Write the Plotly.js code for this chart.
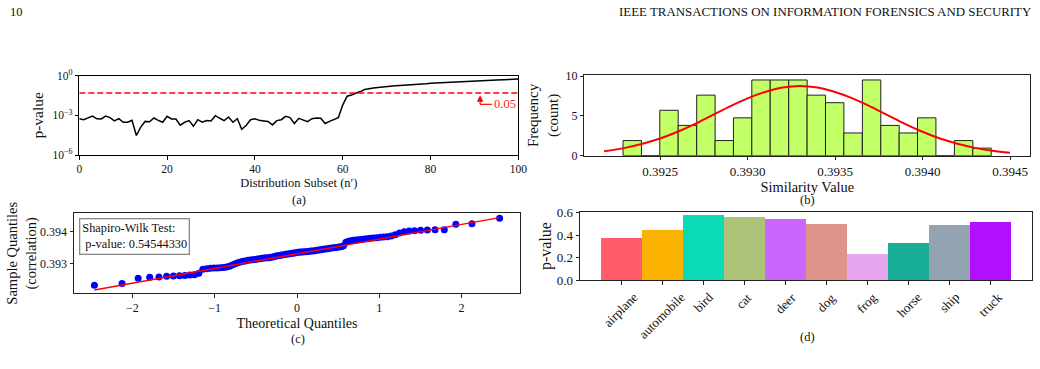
<!DOCTYPE html>
<html>
<head>
<meta charset="utf-8">
<script src="https://cdn.plot.ly/plotly-3.0.1.min.js"></script>
<style>
  html, body { margin: 0; padding: 0; background: #fff; }
  #chart { width: 1040px; height: 369px; }
</style>
</head>
<body>
<div id="chart"></div>
<script>
// ---- (a) p-value over distribution subsets ----
const subsetN = [0,1,2,3,4,5,6,7,8,9,10,11,12,13,14,15,16,17,18,19,20,21,22,23,24,25,26,27,28,29,30,
  31,32,33,34,35,36,37,38,39,40,41,42,43,44,45,46,47,48,49,50,51,52,53,54,55,56,57,58,59,60,
  61,62,63,64,65,66,67,68,69,70,71,72,73,74,75,76,77,78,79,80,81,82,83,84,85,86,87,88,89,90,
  91,92,93,94,95,96,97,98,99,100];
const subsetP = [
  5.6e-4, 4.7e-4, 6.5e-4, 8.9e-4, 5.5e-4, 5.3e-4, 8.9e-4, 6.7e-4, 3.8e-4, 5.6e-4,
  3.0e-4, 3.0e-4, 4.2e-4, 3.0e-5, 1.3e-4, 3.5e-4, 3.3e-4, 6.3e-4, 4.2e-4, 3.0e-4,
  8.4e-4, 5.3e-4, 5.3e-4, 1.8e-4, 3.0e-4, 4.0e-4, 1.5e-4, 4.7e-4, 3.0e-4, 4.0e-4,
  3.8e-4, 9.4e-4, 6.0e-4, 4.0e-4, 7.5e-4, 3.0e-4, 5.6e-4, 8.9e-5, 1.7e-4, 4.7e-4,
  5.6e-4, 4.2e-4, 3.8e-4, 3.5e-4, 1.9e-4, 4.0e-4, 4.7e-4, 8.4e-4, 6.7e-4, 2.4e-4,
  6.0e-4, 4.2e-4, 3.3e-4, 5.6e-4, 6.3e-4, 6.0e-4, 2.4e-4, 3.5e-4, 5.0e-4, 6.7e-4,
  0.006, 0.028, 0.035, 0.045, 0.063, 0.089, 0.107, 0.117, 0.126, 0.132,
  0.141, 0.158, 0.170, 0.182, 0.190, 0.182, 0.209, 0.219, 0.229, 0.245,
  0.263, 0.275, 0.295, 0.316, 0.331, 0.347, 0.355, 0.363, 0.380, 0.398,
  0.407, 0.417, 0.427, 0.437, 0.457, 0.468, 0.490, 0.500, 0.525, 0.537,
  0.562];
const threshold = 0.05;
const pTickVals = [1e-6, 1e-3, 1];
const pTickText = ['10<sup>\u22126</sup>', '10<sup>\u22123</sup>', '10<sup>0</sup>'];

// ---- (b) histogram of similarity values with fitted normal ----
const binCenters = [0.392341, 0.392446, 0.392551, 0.392656, 0.392762, 0.392867, 0.392972,
  0.393077, 0.393182, 0.393288, 0.393393, 0.393498, 0.393603, 0.393709, 0.393814, 0.393919,
  0.394024, 0.394129, 0.394235, 0.394340];
const binHeights = [1.9, 0, 5.7, 3.8, 7.6, 1.9, 4.75, 9.5, 9.5, 9.5, 7.6, 6.65, 2.85, 9.5,
  3.8, 2.85, 4.75, 0, 1.9, 0.95];
const binWidth = 0.0001053;
const normalX = [0.39218, 0.3923, 0.3924, 0.3925, 0.3926, 0.3927, 0.3928, 0.3929, 0.3930,
  0.3931, 0.3932, 0.3933, 0.3934, 0.3935, 0.3936, 0.3937, 0.3938, 0.3939, 0.3940, 0.3941,
  0.3942, 0.3943, 0.3944, 0.3945];
const normalY = [0.55, 0.98, 1.5, 2.15, 3.0, 4.0, 5.1, 6.2, 7.2, 8.0, 8.55, 8.75, 8.55, 8.0,
  7.2, 6.2, 5.1, 4.0, 3.0, 2.15, 1.5, 0.98, 0.62, 0.37];
const simTicks = [0.3925, 0.3930, 0.3935, 0.3940, 0.3945];

// ---- (c) normal Q-Q plot ----
const theoreticalQ = [
  -2.462, -2.126, -1.930, -1.790, -1.678, -1.584, -1.502, -1.428, -1.362, -1.302,
  -1.246, -1.193, -1.144, -1.097, -1.053, -1.010, -0.969, -0.930, -0.892, -0.856,
  -0.820, -0.786, -0.752, -0.719, -0.687, -0.656, -0.625, -0.595, -0.565, -0.536,
  -0.508, -0.479, -0.452, -0.424, -0.397, -0.370, -0.343, -0.317, -0.291, -0.265,
  -0.239, -0.214, -0.188, -0.163, -0.137, -0.112, -0.087, -0.062, -0.037, -0.012,
  0.012, 0.037, 0.062, 0.087, 0.112, 0.137, 0.163, 0.188, 0.214, 0.239,
  0.265, 0.291, 0.317, 0.343, 0.370, 0.397, 0.424, 0.452, 0.479, 0.508,
  0.536, 0.565, 0.595, 0.625, 0.656, 0.687, 0.719, 0.752, 0.786, 0.820,
  0.856, 0.892, 0.930, 0.969, 1.010, 1.053, 1.097, 1.144, 1.193, 1.246,
  1.302, 1.362, 1.428, 1.502, 1.584, 1.678, 1.790, 1.930, 2.126, 2.462];
const sampleQ = [
  0.392323, 0.392385, 0.392542, 0.392573, 0.392583, 0.392604, 0.392615, 0.392625, 0.392635, 0.392646,
  0.392656, 0.392698, 0.392823, 0.392844, 0.392854, 0.392865, 0.392865, 0.392875, 0.392885, 0.392896,
  0.392917, 0.392958, 0.393000, 0.393031, 0.393052, 0.393073, 0.393083, 0.393104, 0.393115, 0.393125,
  0.393135, 0.393146, 0.393156, 0.393167, 0.393177, 0.393188, 0.393188, 0.393198, 0.393208, 0.393229,
  0.393250, 0.393260, 0.393271, 0.393281, 0.393292, 0.393302, 0.393313, 0.393323, 0.393333, 0.393344,
  0.393354, 0.393365, 0.393365, 0.393375, 0.393375, 0.393385, 0.393396, 0.393396, 0.393406, 0.393417,
  0.393427, 0.393438, 0.393448, 0.393458, 0.393469, 0.393479, 0.393490, 0.393500, 0.393510, 0.393521,
  0.393531, 0.393563, 0.393667, 0.393698, 0.393719, 0.393729, 0.393740, 0.393750, 0.393760, 0.393771,
  0.393781, 0.393792, 0.393802, 0.393813, 0.393823, 0.393833, 0.393844, 0.393865, 0.393906, 0.393958,
  0.394000, 0.394021, 0.394031, 0.394042, 0.394052, 0.394063, 0.394063, 0.394229, 0.394250, 0.394417];
const fitLineX = [-2.462, 2.462];
const fitLineY = [0.39218, 0.39444];
const shapiroText = 'Shapiro-Wilk Test:<br>\u00a0p-value: 0.54544330';

// ---- (d) per-class p-values ----
const classes = ['airplane', 'automobile', 'bird', 'cat', 'deer', 'dog', 'frog', 'horse', 'ship', 'truck'];
const classP = [0.376, 0.448, 0.582, 0.558, 0.546, 0.501, 0.233, 0.331, 0.493, 0.519];
const classColors = ['#FF5B68', '#FCB200', '#0BDAB6', '#ADC177', '#C966FD', '#E0938A',
  '#E8A6F0', '#17AD97', '#93A3B2', '#B10FFE'];

// ---- layout helpers (pixel -> paper) ----
const W = 1040, H = 369;
const fx = px => px / W;
const fy = py => 1 - py / H;
const FONT = 'Liberation Serif, Times New Roman, serif';
const INK = '#111';

function axisBase(extra) {
  return Object.assign({
    showline: true, mirror: true, linewidth: 1, linecolor: '#222',
    ticks: 'outside', ticklen: 3.5, tickwidth: 1, tickcolor: '#222',
    showgrid: false, zeroline: false, automargin: false,
    tickfont: { family: FONT, size: 11.5, color: INK }
  }, extra);
}
const tf = size => ({ family: FONT, size: size, color: INK });

const traces = [
  { x: subsetN, y: subsetP, xaxis: 'x', yaxis: 'y', type: 'scatter', mode: 'lines',
    line: { color: '#000', width: 1.5 }, hoverinfo: 'skip' },
  { x: [subsetN[0], subsetN[subsetN.length - 1]], y: [threshold, threshold], xaxis: 'x', yaxis: 'y',
    type: 'scatter', mode: 'lines', line: { color: '#FF0000', width: 1.5, dash: '6px,3px' }, hoverinfo: 'skip' },

  { x: binCenters, y: binHeights, xaxis: 'x2', yaxis: 'y2', type: 'bar', width: binWidth,
    marker: { color: '#C3FF66', line: { color: '#222', width: 1 } }, hoverinfo: 'skip' },
  { x: normalX, y: normalY, xaxis: 'x2', yaxis: 'y2', type: 'scatter', mode: 'lines',
    line: { color: '#FF0000', width: 2, shape: 'spline', smoothing: 1 }, hoverinfo: 'skip' },

  { x: theoreticalQ, y: sampleQ, xaxis: 'x3', yaxis: 'y3', type: 'scatter', mode: 'markers',
    marker: { color: '#0000FF', size: 7 }, hoverinfo: 'skip' },
  { x: fitLineX, y: fitLineY, xaxis: 'x3', yaxis: 'y3', type: 'scatter', mode: 'lines',
    line: { color: '#FF0000', width: 1.5 }, hoverinfo: 'skip' },

  { x: classes, y: classP, xaxis: 'x4', yaxis: 'y4', type: 'bar', width: 1,
    marker: { color: classColors, line: { width: 0 } }, hoverinfo: 'skip' }
];

const annotations = [
  // running header
  { text: '10', xref: 'paper', yref: 'paper', x: fx(8), y: fy(12), xanchor: 'left', yanchor: 'middle',
    showarrow: false, font: tf(12.5) },
  { text: 'IEEE TRANSACTIONS ON INFORMATION FORENSICS AND SECURITY', xref: 'paper', yref: 'paper',
    x: fx(1033), y: fy(12), xanchor: 'right', yanchor: 'middle', showarrow: false, font: tf(12.9) },
  // sub-figure captions
  { text: '(a)', xref: 'paper', yref: 'paper', x: fx(299), y: fy(200), xanchor: 'center', yanchor: 'middle',
    showarrow: false, font: tf(12.5) },
  { text: '(b)', xref: 'paper', yref: 'paper', x: fx(807), y: fy(200), xanchor: 'center', yanchor: 'middle',
    showarrow: false, font: tf(12.5) },
  { text: '(c)', xref: 'paper', yref: 'paper', x: fx(298), y: fy(338.5), xanchor: 'center', yanchor: 'middle',
    showarrow: false, font: tf(12.5) },
  { text: '(d)', xref: 'paper', yref: 'paper', x: fx(807), y: fy(337), xanchor: 'center', yanchor: 'middle',
    showarrow: false, font: tf(12.5) },
  // arrowhead of the 0.05 marker in (a)
  { text: '', xref: 'x', yref: 'y domain', x: 91.3, y: 0.755, showarrow: true,
    ax: 0, ay: 7, arrowhead: 2, arrowsize: 1.1, arrowwidth: 1.2, arrowcolor: '#FF0000',
    standoff: 0, startstandoff: 0, borderpad: 0, font: { size: 1 } },
  { text: '0.05', xref: 'x', yref: 'y domain', x: 94.0, y: 0.639, xanchor: 'left', yanchor: 'middle',
    showarrow: false, font: { family: FONT, size: 12.5, color: '#FF2020' } },
  // test result box in (c)
  { text: shapiroText, xref: 'paper', yref: 'paper', x: fx(78.5), y: fy(218), xanchor: 'left', yanchor: 'top',
    align: 'left', showarrow: false, bgcolor: '#fff', bordercolor: '#888', borderwidth: 1.3, borderpad: 2,
    font: tf(12.3) }
];

// rotated class labels for (d), centred under their ticks
classes.forEach(c => annotations.push({
  text: c, xref: 'x4', yref: 'paper', x: c, y: fy(287), xanchor: 'center', yanchor: 'top',
  textangle: -45, showarrow: false, font: tf(13)
}));

const shapes = [
  { type: 'line', xref: 'x', yref: 'y domain', x0: 91.3, x1: 94.0, y0: 0.639, y1: 0.639,
    line: { color: '#FF0000', width: 1.2 } },
  { type: 'line', xref: 'x', yref: 'y domain', x0: 91.3, x1: 91.3, y0: 0.639, y1: 0.70,
    line: { color: '#FF0000', width: 1.2 } }
];

const layout = {
  width: W, height: H, margin: { l: 0, r: 0, t: 0, b: 0 },
  paper_bgcolor: '#fff', plot_bgcolor: '#fff', showlegend: false,
  font: { family: FONT, color: INK },
  bargap: 0,
  xaxis: axisBase({ domain: [fx(79.3), fx(518.3)], range: [0, 100], tickvals: [0, 20, 40, 60, 80, 100],
    linecolor: '#000', tickcolor: '#000', anchor: 'y',
    title: { text: 'Distribution Subset (n\u2032)', font: tf(12.5), standoff: 3 } }),
  yaxis: axisBase({ domain: [fy(155), fy(75.7)], type: 'log', range: [-6, 0], tickvals: pTickVals,
    ticktext: pTickText, linecolor: '#000', tickcolor: '#000', anchor: 'x',
    title: { text: 'p-value', font: tf(15.5), standoff: 5 } }),

  xaxis2: axisBase({ domain: [fx(584.3), fx(1030.3)], range: [0.392067, 0.394616], tickvals: simTicks,
    tickformat: '.4f', anchor: 'y2', tickfont: tf(13),
    title: { text: 'Similarity Value', font: tf(14.4), standoff: 1 } }),
  yaxis2: axisBase({ domain: [fy(155.7), fy(75.2)], range: [0, 10.1], tickvals: [0, 5, 10], anchor: 'x2',
    tickfont: tf(12),
    title: { text: 'Frequency<br>(count)', font: tf(15), standoff: 3 } }),

  xaxis3: axisBase({ domain: [fx(74), fx(520)], range: [-2.71, 2.71], tickvals: [-2, -1, 0, 1, 2], anchor: 'y3',
    tickfont: tf(12),
    title: { text: 'Theoretical Quantiles', font: tf(14), standoff: 3 } }),
  yaxis3: axisBase({ domain: [fy(293.3), fy(213.3)], range: [0.392075, 0.394575], tickvals: [0.393, 0.394],
    tickformat: '.3f', anchor: 'x3', tickfont: tf(12),
    title: { text: 'Sample Quantiles<br>(correlation)', font: tf(14.5), standoff: 0 } }),

  xaxis4: axisBase({ domain: [fx(580), fx(1031.7)], type: 'category', range: [-1, 10], showticklabels: false,
    anchor: 'y4' }),
  yaxis4: axisBase({ domain: [fy(280), fy(212)], range: [0, 0.607], tickvals: [0, 0.2, 0.4, 0.6],
    tickformat: '.1f', anchor: 'x4', tickfont: tf(13),
    title: { text: 'p-value', font: tf(16), standoff: 1 } }),

  annotations: annotations,
  shapes: shapes
};

Plotly.newPlot('chart', traces, layout, { staticPlot: true, displayModeBar: false });
</script>
</body>
</html>
